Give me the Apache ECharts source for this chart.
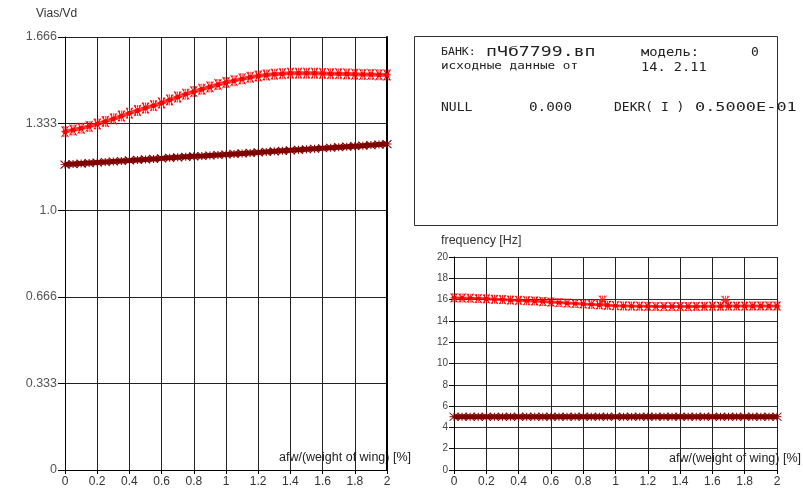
<!DOCTYPE html>
<html>
<head>
<meta charset="utf-8">
<script src="https://cdn.jsdelivr.net/npm/echarts@6/dist/echarts.min.js"></script>
<style>html,body{margin:0;padding:0;background:#fff;}#c{width:803px;height:488px;}</style>
</head>
<body>
<div id="c"></div>
<script>
// x positions: afw/(weight of wing) [%]
const xValues = [0,0.05,0.1,0.15,0.2,0.25,0.3,0.35,0.4,0.45,0.5,0.55,0.6,0.65,0.7,0.75,0.8,0.85,0.9,0.95,1,1.05,1.1,1.15,1.2,1.25,1.3,1.35,1.4,1.45,1.5,1.55,1.6,1.65,1.7,1.75,1.8,1.85,1.9,1.95,2];
// Left chart: Vias/Vd
const leftRed = [1.302,1.308,1.315,1.322,1.331,1.341,1.351,1.362,1.373,1.383,1.393,1.402,1.412,1.424,1.435,1.446,1.456,1.465,1.474,1.483,1.491,1.498,1.505,1.511,1.516,1.520,1.523,1.525,1.527,1.527,1.527,1.527,1.526,1.525,1.525,1.524,1.523,1.522,1.522,1.521,1.520];
const leftDark = [1.175,1.177,1.179,1.181,1.183,1.185,1.187,1.189,1.191,1.193,1.195,1.197,1.199,1.201,1.203,1.205,1.207,1.208,1.210,1.212,1.214,1.216,1.218,1.220,1.222,1.224,1.226,1.228,1.230,1.232,1.234,1.236,1.238,1.240,1.242,1.244,1.246,1.248,1.250,1.252,1.254];
// Right chart: frequency [Hz]
const rightRed = [16.17,16.15,16.13,16.10,16.07,16.03,16.00,15.96,15.93,15.90,15.87,15.82,15.77,15.72,15.67,15.63,15.59,15.55,15.51,15.47,15.43,15.41,15.39,15.38,15.37,15.36,15.35,15.35,15.35,15.35,15.36,15.37,15.38,15.38,15.39,15.39,15.39,15.40,15.40,15.40,15.40];
const rightRedOutliers = [[0.92,15.96],[1.68,15.93]];
const rightDark = [5.0,5.0,5.0,5.0,5.0,5.0,5.0,5.0,5.0,5.0,5.0,5.0,5.0,5.0,5.0,5.0,5.0,5.0,5.0,5.0,5.0,5.0,5.0,5.0,5.0,5.0,5.0,5.0,5.0,5.0,5.0,5.0,5.0,5.0,5.0,5.0,5.0,5.0,5.0,5.0,5.0];
// tick labels
const xTickLabels = ['0','0.2','0.4','0.6','0.8','1','1.2','1.4','1.6','1.8','2'];
const leftYTickLabels = ['0','0.333','0.666','1.0','1.333','1.666'];

const RED = '#ff0000', DARK = '#800000';
const redSym = 'path://M0,0L6,10M6,0L0,10M3,0L3,10M0,5L6,5M1.5,0L1.5,10M4.5,0L4.5,10';
const darkSym = 'path://M0,0L8,8M8,0L0,8M0,4L8,4M4,0L4,8';
const pair = arr => arr.map((v,i)=>[xValues[i], v]);

function lineSeries(data, color, sym, size, xi, yi, lw, lc){
  return {
    type:'line', xAxisIndex:xi, yAxisIndex:yi, data:pair(data),
    symbol:sym, symbolSize:size, showAllSymbol:true,
    itemStyle:{color:'rgba(0,0,0,0)', borderColor:color, borderWidth:1, opacity:1},
    lineStyle:{color:lc || color, width:lw},
    silent:true, animation:false
  };
}

const axisLabelStyle = {color:'#333', fontFamily:'Liberation Sans, Arial', fontSize:12};
function xAxisCfg(gi){
  return {
    type:'value', gridIndex:gi, min:0, max:2, interval:0.2,
    axisLine:{show:true, onZero:false, lineStyle:{color:'#000', width:1}},
    axisTick:{show:true, length:4, lineStyle:{color:'#000'}},
    axisLabel:Object.assign({margin:6, formatter:v=>xTickLabels[Math.round(v/0.2)]}, axisLabelStyle),
    splitLine:{show:true, lineStyle:{color:'#222', width:1}}
  };
}

const chart = echarts.init(document.getElementById('c'), null, {renderer:'canvas'});
chart.setOption({
  animation:false,
  backgroundColor:'#fff',
  grid:[
    {left:65, top:37, width:322, height:433},
    {left:454, top:257, width:323, height:214}
  ],
  xAxis:[xAxisCfg(0), xAxisCfg(1)],
  yAxis:[
    {type:'value', gridIndex:0, min:0, max:1.666, interval:0.3332,
     axisLine:{show:true, lineStyle:{color:'#000'}},
     axisTick:{show:true, length:7, lineStyle:{color:'#000'}},
     axisLabel:Object.assign({margin:8, formatter:v=>leftYTickLabels[Math.round(v/0.3332)]}, axisLabelStyle, {color:'#555', fontSize:12.5}),
     splitLine:{show:true, lineStyle:{color:'#222'}}},
    {type:'value', gridIndex:1, min:0, max:20, interval:2,
     axisLine:{show:true, lineStyle:{color:'#000'}},
     axisTick:{show:true, length:5, lineStyle:{color:'#000'}},
     axisLabel:{margin:6, color:'#444', fontFamily:'Liberation Sans, Arial', fontSize:10},
     splitLine:{show:true, lineStyle:{color:'#333'}}},
    {type:'value', gridIndex:0, position:'right', min:0, max:1.666, interval:0.3332,
     axisLine:{show:true, lineStyle:{color:'#000', width:2}},
     axisTick:{show:false}, axisLabel:{show:false}, splitLine:{show:false}}
  ],
  series:[
    lineSeries(leftRed, RED, redSym, [7,11], 0, 0, 4, 'rgba(255,0,0,0.75)'),
    lineSeries(leftDark, DARK, darkSym, [9,8], 0, 0, 5),
    lineSeries(rightRed, RED, redSym, [7,9], 1, 1, 3, 'rgba(255,0,0,0.75)'),
    {type:'scatter', xAxisIndex:1, yAxisIndex:1, data:rightRedOutliers, symbol:redSym, symbolSize:[8,9],
     itemStyle:{color:'rgba(0,0,0,0)', borderColor:RED, borderWidth:1}, silent:true},
    lineSeries(rightDark, DARK, darkSym, [9,8], 1, 1, 5)
  ],
  graphic:[
    {type:'text', left:36, top:8, style:{text:'Vias/Vd', fill:'#333', font:'12px Liberation Sans, Arial'}},
    {type:'text', left:279, top:451, style:{text:'afw/(weight of wing) [%]', fill:'#222', font:'12.5px Liberation Sans, Arial'}},
    {type:'text', left:441, top:234, style:{text:'frequency [Hz]', fill:'#333', font:'12.5px Liberation Sans, Arial'}},
    {type:'text', left:669, top:452, style:{text:'afw/(weight of wing) [%]', fill:'#222', font:'12.5px Liberation Sans, Arial'}},
    {type:'rect', shape:{x:414.5, y:36.5, width:363, height:189}, style:{fill:'#fff', stroke:'#333', lineWidth:1}, z:0},
    {type:'text', x:441, y:47, scaleX:1.05, style:{text:'БАНК:', fill:'#222', font:'11px DejaVu Sans Mono'}, z:10},
    {type:'text', x:486, y:45, scaleX:1.3, style:{text:'пЧб7799.вп', fill:'#222', font:'14px DejaVu Sans Mono'}, z:10},
    {type:'text', x:641, y:47, scaleX:1.15, style:{text:'модель:', fill:'#222', font:'12px DejaVu Sans Mono'}, z:10},
    {type:'text', x:751, y:46, style:{text:'0', fill:'#222', font:'13px DejaVu Sans Mono'}, z:10},
    {type:'text', x:441, y:61, scaleX:1.15, style:{text:'исходные данные от', fill:'#222', font:'11px DejaVu Sans Mono'}, z:10},
    {type:'text', x:641, y:61, scaleX:1.05, style:{text:'14. 2.11', fill:'#222', font:'13px DejaVu Sans Mono'}, z:10},
    {type:'text', x:441, y:101, style:{text:'NULL', fill:'#222', font:'13px DejaVu Sans Mono'}, z:10},
    {type:'text', x:529, y:101, scaleX:1.1, style:{text:'0.000', fill:'#222', font:'13px DejaVu Sans Mono'}, z:10},
    {type:'text', x:614, y:101, scaleX:1.0, style:{text:'DEKR( I )', fill:'#222', font:'13px DejaVu Sans Mono'}, z:10},
    {type:'text', x:695, y:101, scaleX:1.3, style:{text:'0.5000E-01', fill:'#222', font:'13px DejaVu Sans Mono'}, z:10}
  ]
});
</script>
</body>
</html>
